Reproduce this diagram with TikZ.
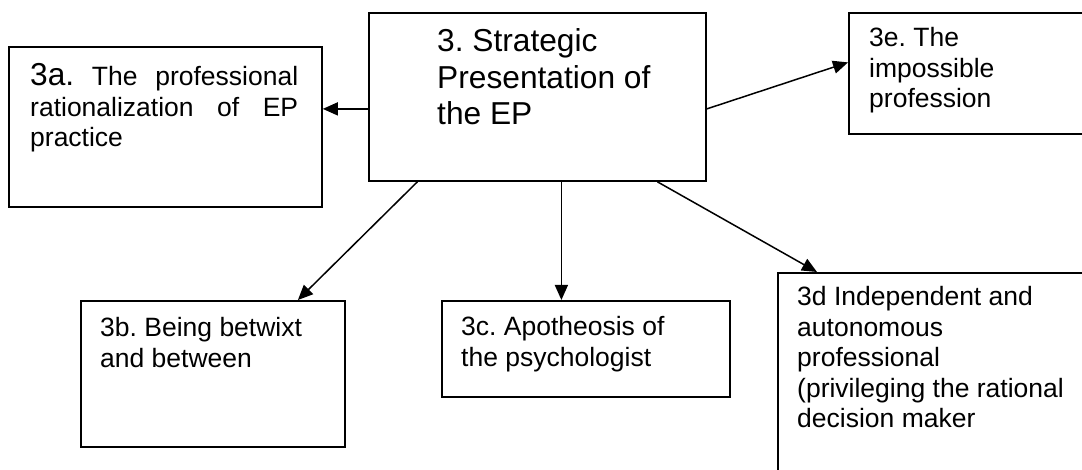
\documentclass[tikz,border=0pt]{standalone}
\usepackage{fontspec}
\setmainfont{Liberation Sans}
\frenchspacing
\usetikzlibrary{arrows.meta, positioning, calc}
\tikzset{
    box/.style={draw, rectangle, line width=1.8pt, inner sep=0pt,
                anchor=north west},
    boxtext/.style={anchor=base west, inner sep=0pt, align=justify,
                    font=\fontsize{26.5pt}{30.5pt}\selectfont},
    bigtext/.style={boxtext, font=\fontsize{31.7pt}{36.5pt}\selectfont},
    arr/.style={-{Triangle[length=15pt, width=13pt]}, line width=1.5pt},
}
\newcommand{\bigsize}{\fontsize{31.7pt}{36.5pt}\selectfont}

\begin{document}
\begin{tikzpicture}[x=1pt, y=-1pt]
    \useasboundingbox (0,0) rectangle (1082,470);
    \clip (0,0) rectangle (1082,470);
    \node[box, minimum width=337pt, minimum height=168pt] (main) at (368,12) {};
    \node[box, minimum width=313pt, minimum height=160pt] (sa) at (8,46) {};
    \node[box, minimum width=250pt, minimum height=121pt] (se) at (848,12) {};
    \node[box, minimum width=264pt, minimum height=146pt] (sb) at (80,300) {};
    \node[box, minimum width=288pt, minimum height=96pt]  (sc) at (441,300) {};
    \node[box, minimum width=320pt, minimum height=230pt] (sd) at (777,272) {};

    \node[bigtext, text width=250pt] (maintext) at ([shift={(69pt,-40pt)}]main.north west)
        {3. Strategic\\Presentation of\\the EP};
    \node[boxtext, text width=268pt] (satext) at ([shift={(22pt,-40pt)}]sa.north west)
        {\makebox[268pt][s]{{\bigsize 3a.} The professional}\\
         \makebox[268pt][s]{rationalization of EP}\\
         practice};
    \node[boxtext, text width=200pt] (setext) at ([shift={(21pt,-35pt)}]se.north west)
        {3e. The\\impossible\\profession};
    \node[boxtext, text width=230pt] (sbtext) at ([shift={(20pt,-37pt)}]sb.north west)
        {3b. Being betwixt\\and between};
    \node[boxtext, text width=250pt] (sctext) at ([shift={(20pt,-36pt)}]sc.north west)
        {3c. Apotheosis of\\the psychologist};
    \node[boxtext, text width=290pt] (sdtext) at ([shift={(20pt,-34pt)}]sd.north west)
        {3d Independent and\\autonomous\\professional\\(privileging the rational\\decision maker};

    \draw[arr] ([yshift=-12pt]main.west) -- ([yshift=-12pt]main.west -| sa.east);
    \draw[arr] ([yshift=-12pt]main.east) -- ([yshift=11pt]se.west);
    \draw[arr] ([xshift=-120pt]main.south) -- ([xshift=85pt]sb.north);
    \draw[arr] ([xshift=24pt]main.south) -- ([xshift=24pt]main.south |- sc.north);
    \draw[arr] ([xshift=120pt]main.south) -- ([xshift=40pt]sd.north west);
\end{tikzpicture}
\end{document}
